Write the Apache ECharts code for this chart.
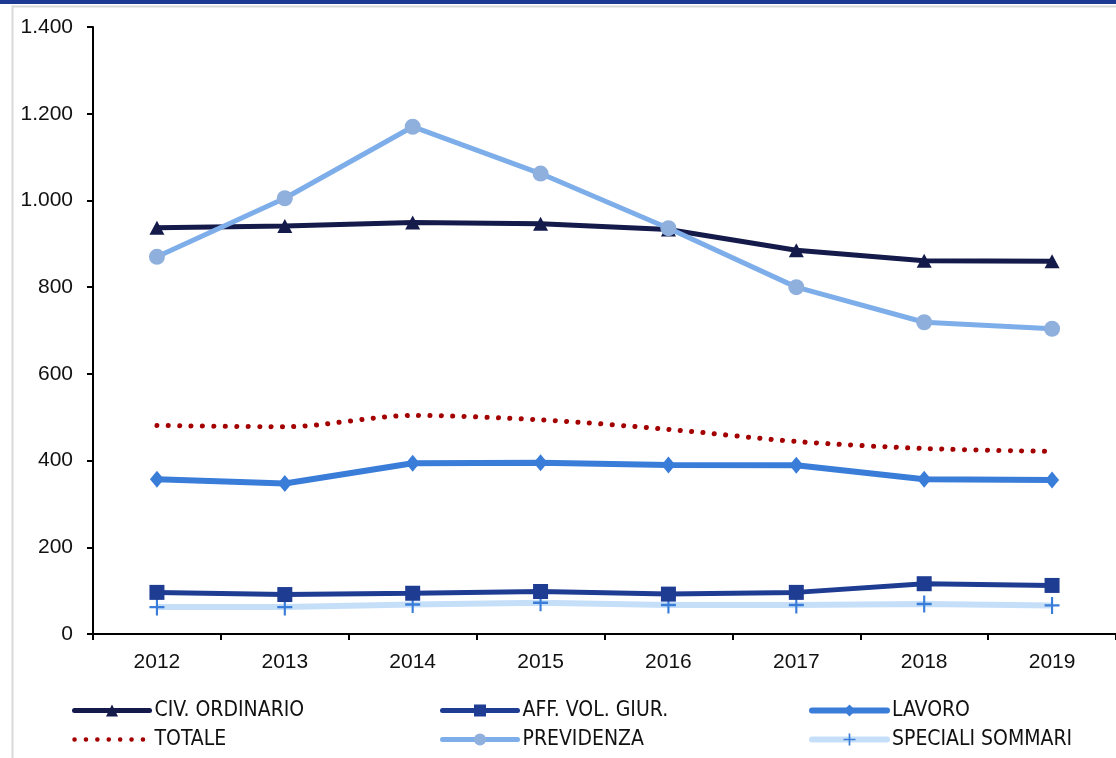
<!DOCTYPE html>
<html><head><meta charset="utf-8">
<script src="https://cdn.jsdelivr.net/npm/echarts@6/dist/echarts.min.js"></script>
<style>html,body{margin:0;padding:0;background:#fff}#c{width:1116px;height:758px}</style>
</head><body><div id="c"></div>
<script>
const years = ['2012','2013','2014','2015','2016','2017','2018','2019'];
const yTicks = [0, 200, 400, 600, 800, 1000, 1200, 1400];
const civOrdinario = [937, 941, 949, 946, 933, 885, 861, 860];
const affVolGiur = [96, 91, 94, 98, 92, 96, 116, 112];
const lavoro = [357, 347, 394, 395, 390, 389, 357, 355];
const totale = [481, 478, 504, 494, 472, 444, 428, 421];
const previdenza = [870, 1005, 1170, 1062, 936, 800, 719, 704];
const specialiSommari = [62, 62, 68, 72, 67, 67, 69, 66];

const FONT = '"Liberation Sans", Arial, sans-serif';
const NARROW = '"Liberation Sans Narrow", "Arial Narrow", "DejaVu Sans Condensed", sans-serif';
const plusPath = 'path://M6,0L8,0L8,6L14,6L14,8L8,8L8,14L6,14L6,8L0,8L0,6L6,6Z';
const dotDash = [0.1, 11.3];

function fmt(v){ return String(v).replace(/\B(?=(\d{3})+(?!\d))/g,'.'); }

const chart = echarts.init(document.getElementById('c'), null, {renderer:'canvas'});
const legendText = {fontFamily: NARROW, fontSize: 21, color: '#111'};
function legendCol(left, items){
  return {orient:'vertical', left: left, top: 700, padding: 0, itemWidth: 75, itemHeight: 15,
    itemGap: 8, textStyle: legendText, selectedMode: false, data: items};
}
function li(name, color, width, extra){
  return Object.assign({name: name, lineStyle: {color: color, width: width, cap: 'round'}}, extra || {});
}
chart.setOption({
  backgroundColor: '#ffffff',
  animation: false,
  graphic: [
    {type:'rect', shape:{x:0,y:0,width:1116,height:4}, style:{fill:'#1f3a93'}, silent:true},
    {type:'rect', shape:{x:12,y:5.5,width:1104,height:2}, style:{fill:'#d9d9d9'}, silent:true},
    {type:'rect', shape:{x:11.5,y:5.5,width:2,height:753}, style:{fill:'#d9d9d9'}, silent:true}
  ],
  grid: {left: 93, right: -13, top: 27, bottom: 124, containLabel: false},
  xAxis: {
    type: 'category', data: years, boundaryGap: true,
    axisLine: {lineStyle: {color: '#000', width: 2}},
    axisTick: {show: true, length: 6, lineStyle: {color: '#000', width: 2}},
    axisLabel: {fontFamily: FONT, fontSize: 21, color: '#111', margin: 18},
    splitLine: {show: false}
  },
  yAxis: {
    type: 'value', min: yTicks[0], max: yTicks[yTicks.length-1], interval: 200,
    axisLine: {show: true, lineStyle: {color: '#000', width: 2}},
    axisTick: {show: true, length: 6, lineStyle: {color: '#000', width: 2}},
    axisLabel: {fontFamily: FONT, fontSize: 21, color: '#111', margin: 20, formatter: fmt},
    splitLine: {show: false}
  },
  legend: [
    legendCol(72, [li('CIV. ORDINARIO', '#141a4a', 5),
                   li('TOTALE', '#a30000', 4.5, {lineStyle:{color:'#a30000', width:4.5, cap:'round', type: dotDash}, itemStyle:{opacity:0}})]),
    legendCol(440, [li('AFF. VOL. GIUR.', '#1f3c93', 5), li('PREVIDENZA', '#7eaeea', 5)]),
    legendCol(809, [li('LAVORO', '#3a7dd8', 6), li('SPECIALI SOMMARI', '#c6dff9', 6)])
  ],
  series: [
    {name:'CIV. ORDINARIO', type:'line', data: civOrdinario, z: 3,
     lineStyle:{color:'#141a4a', width:5}, itemStyle:{color:'#141a4a'},
     symbol:'triangle', symbolSize:[15,14], showAllSymbol:true},
    {name:'AFF. VOL. GIUR.', type:'line', data: affVolGiur, z: 3,
     lineStyle:{color:'#1f3c93', width:5}, itemStyle:{color:'#1f3c93'},
     symbol:'rect', symbolSize:[15,15], showAllSymbol:true},
    {name:'LAVORO', type:'line', data: lavoro, z: 3,
     lineStyle:{color:'#3a7dd8', width:6}, itemStyle:{color:'#3a7dd8'},
     symbol:'diamond', symbolSize:[14,17], showAllSymbol:true},
    {name:'TOTALE', type:'line', data: totale, z: 3, smooth: 0.3,
     lineStyle:{color:'#a30000', width:5, type: dotDash, cap:'round'}, itemStyle:{color:'#a30000'},
     symbol:'none'},
    {name:'PREVIDENZA', type:'line', data: previdenza, z: 4,
     lineStyle:{color:'#7eaeea', width:5}, itemStyle:{color:'#8fb0dc'},
     symbol:'circle', symbolSize:16, showAllSymbol:true},
    {name:'SPECIALI SOMMARI', type:'line', data: specialiSommari, z: 2,
     lineStyle:{color:'#c6dff9', width:6}, itemStyle:{color:'#3a7dd8'},
     symbol: plusPath, symbolSize:[15,17], showAllSymbol:true}
  ]
});
</script></body></html>
